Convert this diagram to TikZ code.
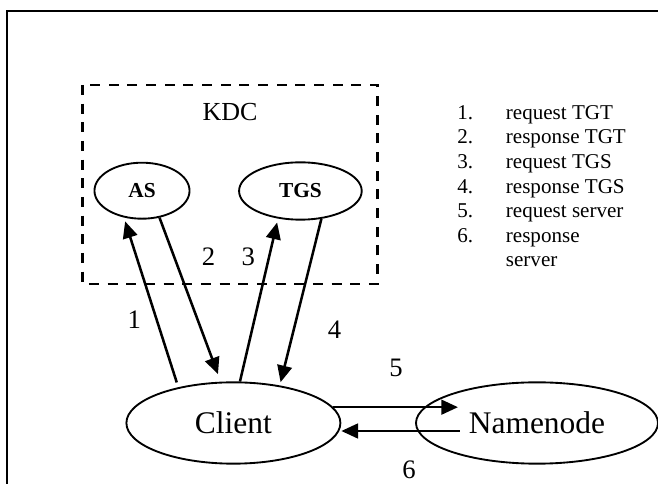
\documentclass[tikz,border=0pt]{standalone}
\usepackage{fontspec}
\setmainfont{Liberation Serif}
\usepackage{tikz}
\usetikzlibrary{arrows.meta,shapes.geometric,calc}

\begin{document}
\begin{tikzpicture}[
  x=0.75pt, y=-0.75pt,
  server/.style={draw,ellipse,line width=1.4pt,inner sep=0pt,
                 font=\fontsize{16}{19}\selectfont\bfseries},
  party/.style={draw,ellipse,line width=1.4pt,inner sep=0pt,
                minimum width=160.5pt,minimum height=61pt,
                font=\fontsize{23.6}{28}\selectfont},
  step label/.style={inner sep=0pt,font=\fontsize{20}{24}\selectfont},
  arrow/.style={-{Triangle[length=12.5pt,width=11pt]},line width=1.9pt},
  frame/.style={line width=1.7pt},
  kdcbox/.style={line width=1.7pt,dash pattern=on 7.5pt off 6.5pt}
]
\useasboundingbox (0,0) rectangle (658,484);
\draw[frame] (7,484) |- (658,11);

% KDC with its two servers
\draw[kdcbox] (82.5,85) rectangle (377.5,284);
\node[inner sep=0pt,font=\fontsize{19.5}{23}\selectfont] (kdc) at (230,111.7) {KDC};
\node[server,minimum width=71.3pt,minimum height=42pt] (as) at (142,190.7) {AS};
\node[server,minimum width=92pt,minimum height=43pt] (tgs) at (300.4,191) {TGS};

% client and namenode
\node[party] (client) at (233.4,423) {Client};
\node[party,minimum width=181.5pt] (namenode) at (537,423) {Namenode};
\coordinate (srvin) at (458,407);
\coordinate (srvout) at (459.5,431);

\draw[arrow,shorten <=3.75pt,shorten >=3pt] (client.147) -- (as.236);
\draw[arrow,shorten >=6pt] (as.303) -- (client.107);
\draw[arrow,shorten >=3pt] (client.81) -- (tgs.231);
\draw[arrow,shorten >=2.5pt] (tgs.307) -- (client.39);
\draw[arrow] (client.9) -- (srvin |- client.9);
\draw[arrow] (srvout) -- (client.east |- srvout);

\node[step label] (n1) at (134.3,319.3) {1};
\node[step label] (n2) at (208.6,256.7) {2};
\node[step label] (n3) at (248.4,256.7) {3};
\node[step label] (n4) at (334.5,330) {4};
\node[step label] (n5) at (396,368) {5};
\node[step label] (n6) at (409,470) {6};

% legend
\node[anchor=base west,inner sep=0pt,font=\fontsize{15.8}{18.45}\selectfont] (legend)
  at (457,119.3) {%
  \begin{tabular}[t]{@{}p{36.5pt}@{}l@{}}
  1. & request TGT\\
  2. & response TGT\\
  3. & request TGS\\
  4. & response TGS\\
  5. & request server\\
  6. & response\\
     & server
  \end{tabular}};
\end{tikzpicture}
\end{document}
